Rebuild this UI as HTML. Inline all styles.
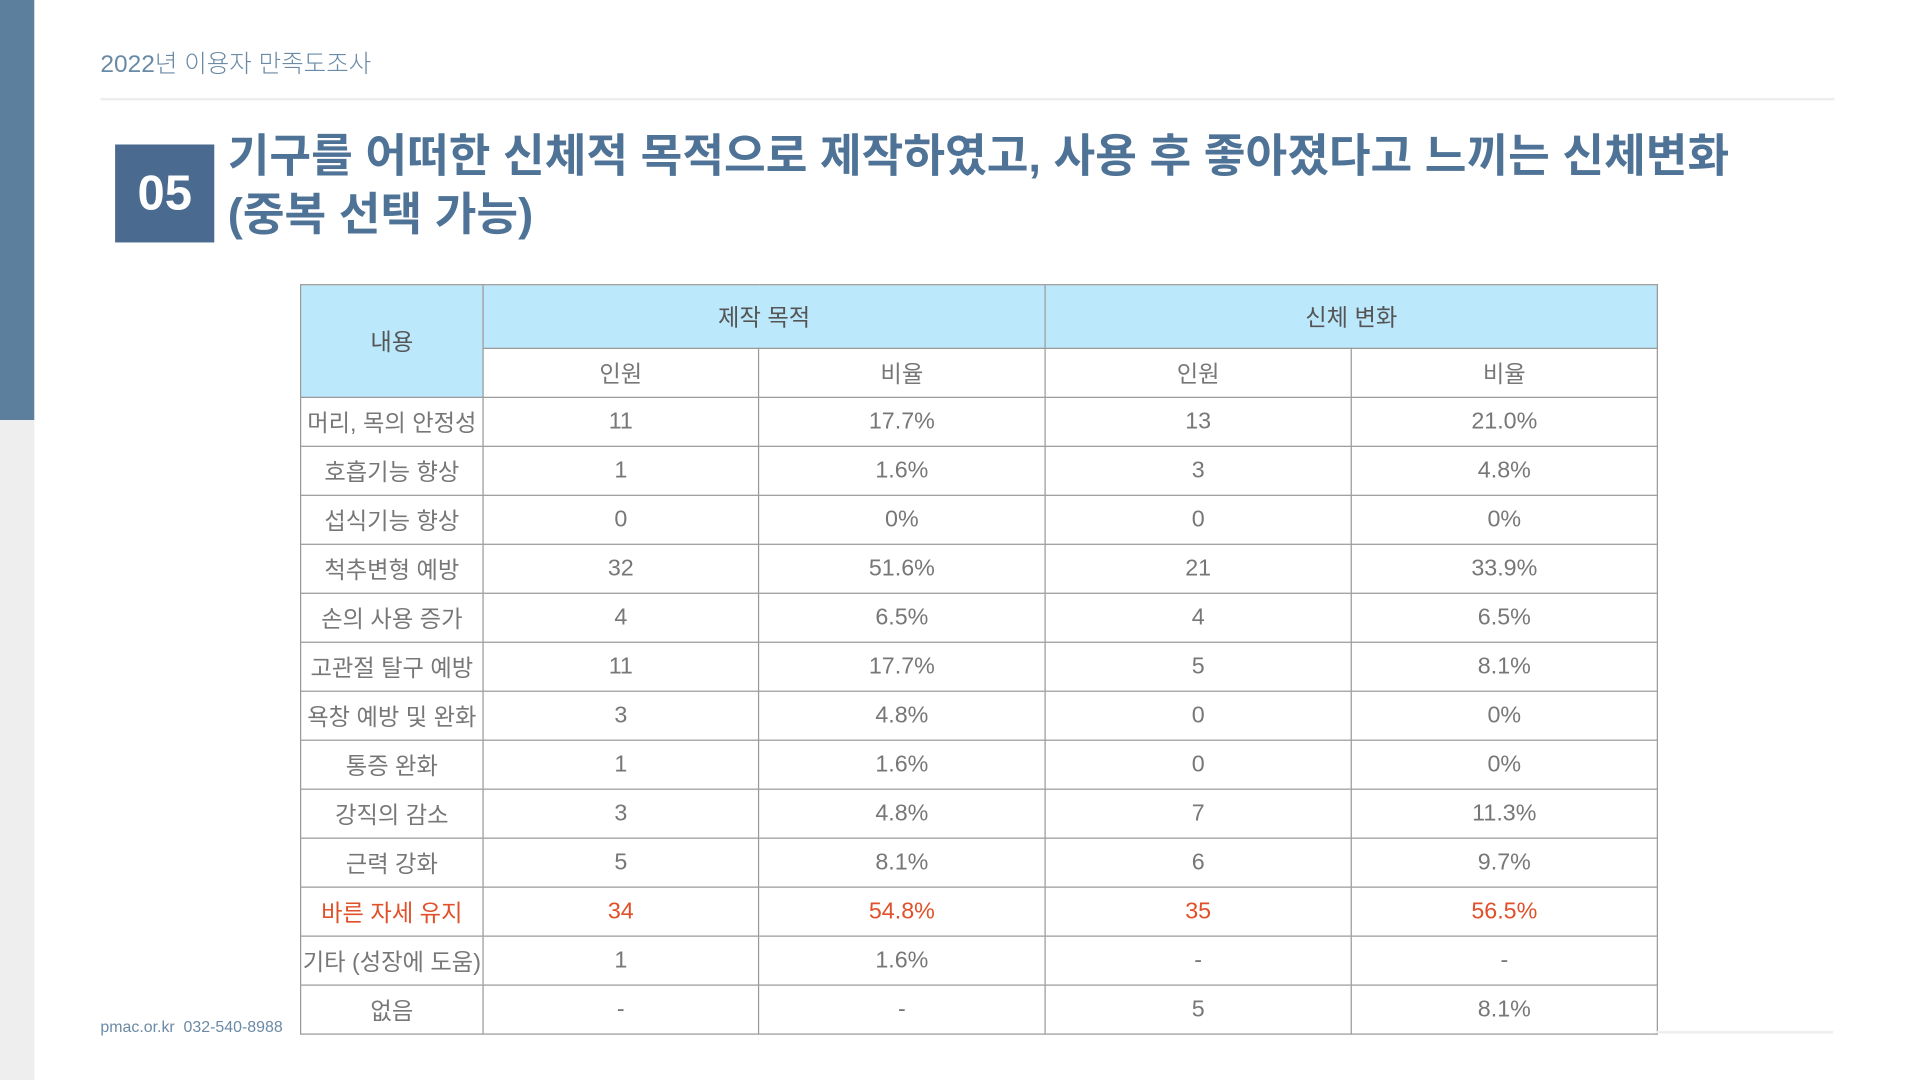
<!DOCTYPE html>
<html><head><meta charset="utf-8">
<style>
html,body{margin:0;padding:0;background:#fff;}
body{width:1920px;height:1080px;overflow:hidden;position:relative;font-family:"Liberation Sans","Noto Sans CJK KR",sans-serif;}
#stage{position:absolute;left:0;top:0;width:1568px;height:882px;transform:scale(1.22449);transform-origin:0 0;}
.abs{position:absolute;}
table{border-collapse:collapse;table-layout:fixed;}
td{border:1px solid #999;text-align:center;color:#777;font-size:19px;padding:0;height:39px;}
td.h{background:#bce8fc;color:#555;}
tr.hi td{color:#e0502a;}
</style></head>
<body>
<div id="stage">
  <div class="abs" style="left:0;top:0;width:28px;height:343px;background:#5b7f9c"></div>
  <div class="abs" style="left:0;top:343px;width:28px;height:539px;background:#eeeeee"></div>
  <div class="abs" style="left:82px;top:36px;font-size:20px;color:#6a8aa5;font-weight:300">2022년 이용자 만족도조사</div>
  <div class="abs" style="left:82px;top:80px;width:1416px;height:2px;background:#eee"></div>
  <div class="abs" style="left:94px;top:118px;width:81px;height:80px;background:#4a6a8f;color:#fff;font-weight:bold;font-size:40px;line-height:80px;text-align:center">05</div>
  <div class="abs" style="left:186px;top:104px;font-size:37px;line-height:48px;font-weight:bold;color:#4f7396;white-space:nowrap">기구를 어떠한 신체적 목적으로 제작하였고, 사용 후 좋아졌다고 느끼는 신체변화<br>(중복 선택 가능)</div>
  <table class="abs" id="tbl" style="left:245px;top:232px;width:1108px">
    <colgroup><col style="width:149px"><col style="width:225px"><col style="width:234px"><col style="width:250px"><col style="width:250px"></colgroup>
    <tr>
      <td class="h" rowspan="2">내용</td>
      <td class="h" colspan="2" style="height:51px">제작 목적</td>
      <td class="h" colspan="2">신체 변화</td>
    </tr>
    <tr>
      <td>인원</td>
      <td>비율</td>
      <td>인원</td>
      <td>비율</td>
    </tr>
  </table>
  <div class="abs" style="left:82px;top:831px;font-size:13px;color:#6a8aa5">pmac.or.kr&nbsp;&nbsp;032-540-8988</div>
  <div class="abs" style="left:1352px;top:842px;width:145px;height:2px;background:#eee"></div>
</div>
<script>
const categories=["머리, 목의 안정성","호흡기능 향상","섭식기능 향상","척추변형 예방","손의 사용 증가","고관절 탈구 예방","욕창 예방 및 완화","통증 완화","강직의 감소","근력 강화","바른 자세 유지","기타 (성장에 도움)","없음"];
const purposeCount=["11","1","0","32","4","11","3","1","3","5","34","1","-"];
const purposeRatio=["17.7%","1.6%","0%","51.6%","6.5%","17.7%","4.8%","1.6%","4.8%","8.1%","54.8%","1.6%","-"];
const changeCount=["13","3","0","21","4","5","0","0","7","6","35","-","5"];
const changeRatio=["21.0%","4.8%","0%","33.9%","6.5%","8.1%","0%","0%","11.3%","9.7%","56.5%","-","8.1%"];
const highlightIndex=10;
const tbl=document.getElementById('tbl');
categories.forEach((c,i)=>{
  const tr=document.createElement('tr');
  
  
  if(i===highlightIndex) tr.className='hi';
  [c,purposeCount[i],purposeRatio[i],changeCount[i],changeRatio[i]].forEach((v,j)=>{
    const td=document.createElement('td');
    
    
    td.textContent=v;
    if(j===0) td.style.whiteSpace='nowrap';
    tr.appendChild(td);
  });
  tbl.appendChild(tr);
});
</script>
</body></html>
